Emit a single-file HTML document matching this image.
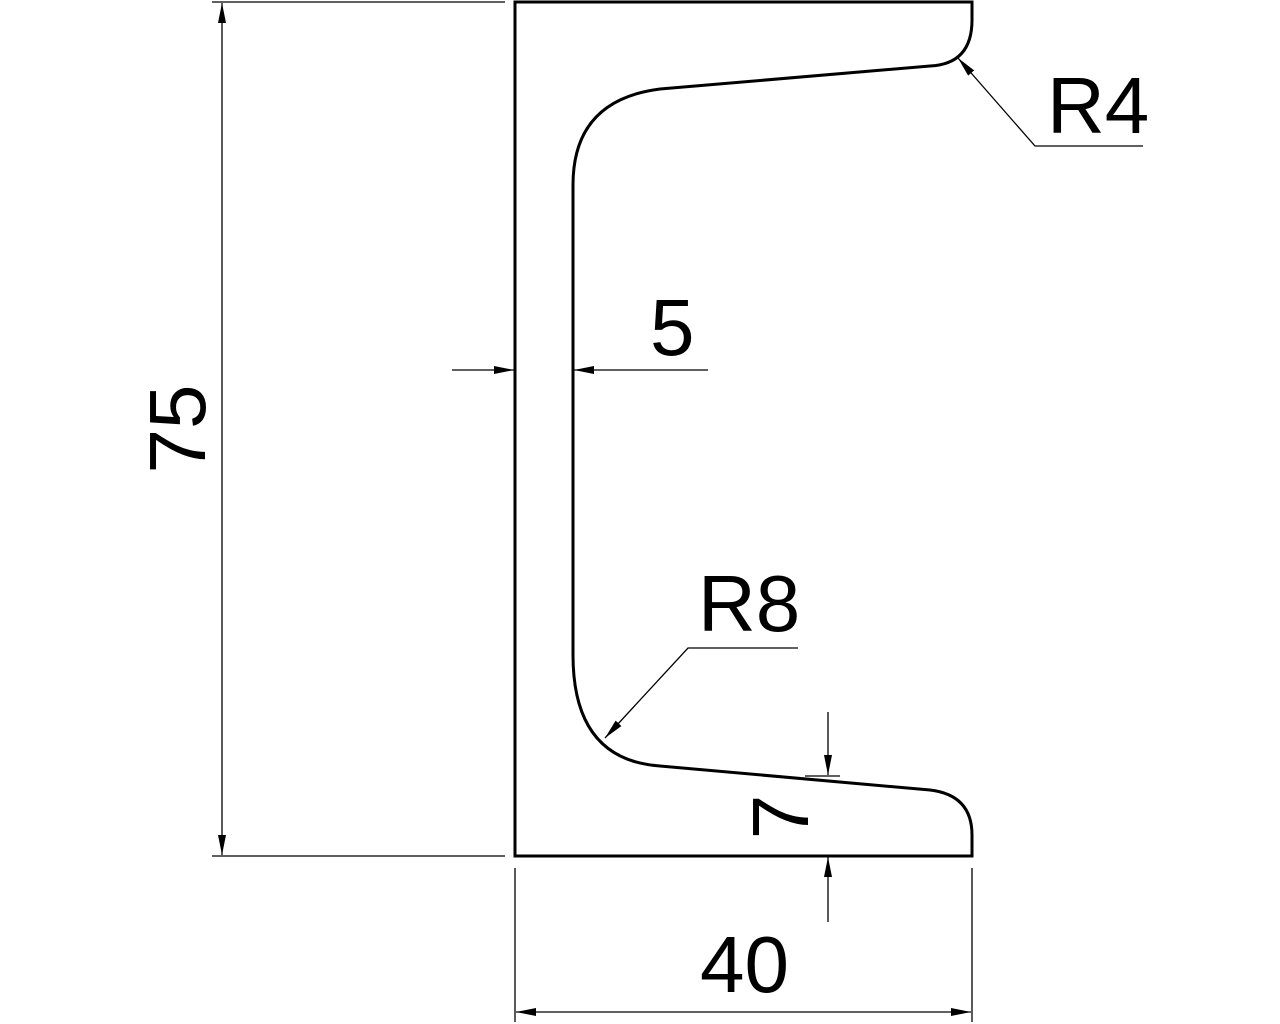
<!DOCTYPE html>
<html><head><style>html,body{margin:0;padding:0;background:#fff}svg{display:block}</style></head>
<body>
<svg width="1280" height="1024" viewBox="0 0 1280 1024" xmlns="http://www.w3.org/2000/svg">
<defs>
<marker id="a" viewBox="0 0 20 8" refX="20" refY="4" markerWidth="20" markerHeight="8" markerUnits="userSpaceOnUse" orient="auto">
<path d="M0,0 L20,4 L0,8 Z" fill="#000"/></marker>
</defs>
<g fill="none" stroke="#000">
<path d="M515,2 H972 V20 Q972,64 930,66 L660,89 Q573,100 573,185 V655 Q573,760 660,766 L930,790 Q972,795 972,835 V856 H515 Z" stroke-width="3"/>
<g stroke-width="1.3">
<line x1="212" y1="2" x2="505" y2="2"/>
<line x1="212" y1="856" x2="505" y2="856"/>
<line x1="222" y1="429" x2="222" y2="3" marker-end="url(#a)"/>
<line x1="222" y1="429" x2="222" y2="855" marker-end="url(#a)"/>
<line x1="515" y1="868" x2="515" y2="1022"/>
<line x1="972" y1="868" x2="972" y2="1022"/>
<line x1="743" y1="1012" x2="516" y2="1012" marker-end="url(#a)"/>
<line x1="743" y1="1012" x2="971" y2="1012" marker-end="url(#a)"/>
<line x1="452" y1="370" x2="514" y2="370" marker-end="url(#a)"/>
<line x1="708" y1="370" x2="574" y2="370" marker-end="url(#a)"/>
<line x1="828" y1="712" x2="828" y2="775" marker-end="url(#a)"/>
<line x1="805" y1="776" x2="840" y2="776"/>
<line x1="828" y1="922" x2="828" y2="857" marker-end="url(#a)"/>
<polyline points="1143,146 1035,146 958,58" marker-end="url(#a)"/>
<polyline points="798,648 688,648 605,738" marker-end="url(#a)"/>
</g>
</g>
<g font-family="Liberation Sans, sans-serif" font-size="80" fill="#000">
<text x="1047" y="133">R4</text>
<text x="698" y="631">R8</text>
<text x="650" y="355">5</text>
<text x="700" y="992">40</text>
<text transform="translate(205,429) rotate(-90)" text-anchor="middle">75</text>
<text transform="translate(808,817) rotate(-90)" text-anchor="middle">7</text>
</g>
</svg>
</body></html>
